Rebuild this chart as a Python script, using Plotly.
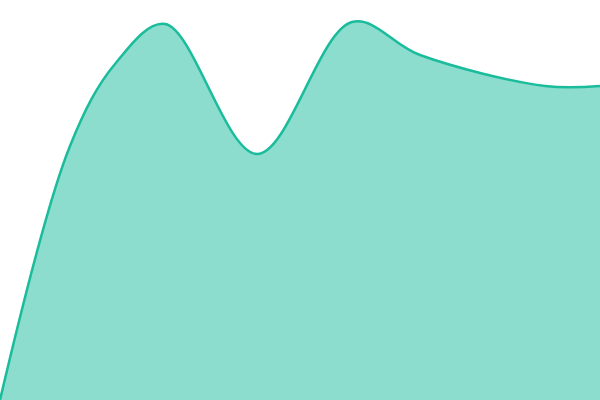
import plotly.graph_objects as go

# positions along the horizontal axis and the curve height
x_pos = [0, 70, 115, 165, 257, 352, 420, 545, 600]
level = [0, 254, 336, 376, 246, 378, 345, 314, 314]

fig = go.Figure()
fig.add_trace(
    go.Scatter(
        x=x_pos,
        y=level,
        mode="lines",
        line=dict(color="#1abc9c", width=2.5, shape="spline", smoothing=1),
        fill="tozeroy",
        fillcolor="rgba(26,188,156,0.5)",
        hoverinfo="skip",
    )
)

fig.update_xaxes(visible=False, range=[0, 600])
fig.update_yaxes(visible=False, range=[0, 400])
fig.update_layout(
    width=600,
    height=400,
    margin=dict(l=0, r=0, t=0, b=0),
    plot_bgcolor="white",
    paper_bgcolor="white",
    showlegend=False,
)
# the page's default body margin would push the chart 8px off the corner
fig.write_html(
    "out.html",
    config={"displayModeBar": False},
    post_script="document.body.style.margin='0';",
)
